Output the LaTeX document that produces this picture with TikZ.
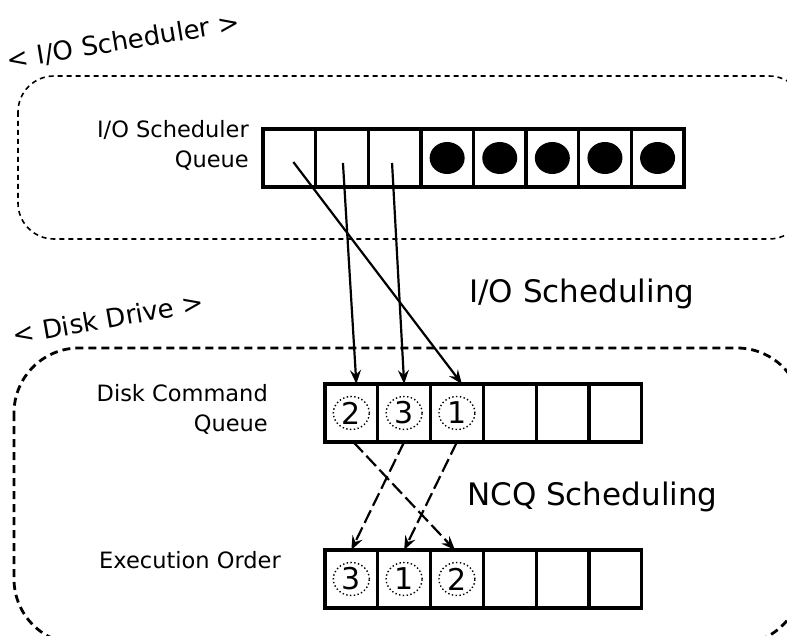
\documentclass[tikz,border=0pt]{standalone}
\usepackage{fontspec}
\setmainfont{DejaVu Sans}
\usetikzlibrary{arrows.meta,calc,shapes.geometric}

\begin{document}
\begin{tikzpicture}[x=1pt,y=-1pt,
  qcell/.style={draw, line width=3.2pt, minimum width=52.7pt, minimum height=58pt,
    inner sep=0pt, outer sep=0pt, anchor=north west},
  slotmark/.style={ellipse, draw, line width=1.4pt, dash pattern=on 1.4pt off 2.4pt,
    minimum width=36pt, minimum height=33pt, inner sep=0pt,
    font=\fontsize{30}{30}\selectfont},
  qlabel/.style={align=right, anchor=north east, inner sep=0pt,
    font=\fontsize{22.5}{29.5}\selectfont},
  phaselabel/.style={anchor=base west, inner sep=0pt, font=\fontsize{31}{31}\selectfont},
  regiontitle/.style={anchor=base, inner sep=0pt, font=\fontsize{26}{26}\selectfont},
  hostbox/.style={line width=1.6pt, dash pattern=on 5pt off 4pt, rounded corners=36pt},
  drivebox/.style={line width=2.8pt, dash pattern=on 8pt off 5pt, rounded corners=65pt},
  dispatch/.style={line width=2.2pt, -{Stealth[length=14pt,width=11pt,inset=5pt]}},
  reorder/.style={line width=2.2pt, dash pattern=on 14pt off 5pt,
    -{Stealth[length=14pt,width=11pt,inset=5pt]}}
]
\useasboundingbox (0,0) rectangle (787,636);

% enclosing regions
\draw[hostbox] (18,76) rectangle (805,239);
\draw[drivebox] (14,348) rectangle (802,644);

\node[regiontitle, rotate=9.4] (hosttitle) at (125,50) {< I/O Scheduler >};
\node[regiontitle, rotate=10] (drivetitle) at (110,328) {< Disk Drive >};

% I/O scheduler queue
\foreach \i in {1,...,8}
  \node[qcell] (q\i) at ({263+52.6*(\i-1)},129) {};
\foreach \i in {4,...,8}
  \fill (q\i.center) ellipse [x radius=17.5pt, y radius=16pt];
\node[qlabel] (qlab) at (249,120.5) {I/O Scheduler\\Queue};

% disk command queue and execution order
\foreach \i in {1,...,6} {
  \node[qcell] (d\i) at ({325+52.8*(\i-1)},384) {};
  \node[qcell] (e\i) at ({325+52.8*(\i-1)},550) {};
}
\node[qlabel] (dlab) at (268,384.5) {Disk Command\\Queue};
\node[anchor=base, inner sep=0pt, font=\fontsize{22.5}{29.5}\selectfont] (elab)
  at (190,568) {Execution Order};

\node[slotmark] (n1) at (d1.center) {2};
\node[slotmark] (n2) at (d2.center) {3};
\node[slotmark] (n3) at (d3.center) {1};
\node[slotmark] (m1) at (e1.center) {3};
\node[slotmark] (m2) at (e2.center) {1};
\node[slotmark] (m3) at (e3.center) {2};

\node[phaselabel] (iosched) at (469,303) {I/O Scheduling};
\node[phaselabel] (ncqsched) at (467,505) {NCQ Scheduling};

% requests handed to the drive
\coordinate (sA) at ($(q1.center)+(4,4)$);
\coordinate (sB) at ($(q2.center)+(1,5)$);
\coordinate (sC) at ($(q3.center)+(-2.5,5)$);
\coordinate (tA) at ($(d3.north)+(5,0)$);
\coordinate (tB) at ($(d1.north)+(5,0)$);
\coordinate (tC) at (d2.north);
\draw[dispatch] (sA) -- (tA);
\draw[dispatch] (sB) -- (tB);
\draw[dispatch] (sC) -- (tC);

% reordering inside the drive
\draw[reorder] ($(d1.south)+(2,0)$) -- ($(e3.north)+(-2,0)$);
\draw[reorder] (d2.south) -- (e1.north);
\draw[reorder] (d3.south) -- (e2.north);
\end{tikzpicture}
\end{document}
